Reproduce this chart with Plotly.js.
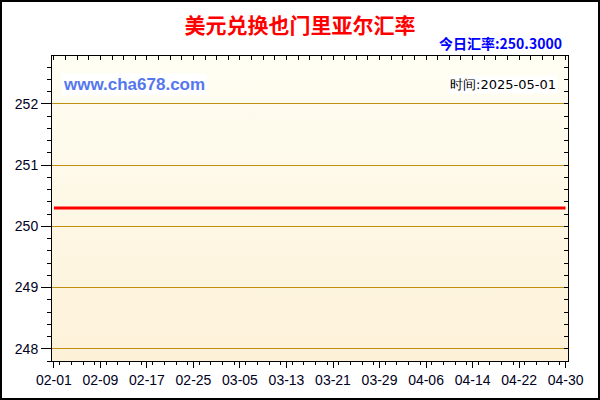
<!DOCTYPE html>
<html>
<head>
<meta charset="utf-8">
<script src="https://cdn.plot.ly/plotly-3.0.1.min.js"></script>
<style>
  body { margin: 0; }
  #wrap { position: relative; width: 600px; height: 400px; }
  #frame { position: absolute; left: 0; top: 0; width: 600px; height: 400px;
           box-sizing: border-box; border: 2px solid #000; pointer-events: none; }
</style>
</head>
<body>
<div id="wrap">
  <div id="chart" style="width:600px;height:400px;"></div>
  <div id="frame"></div>
</div>
<script>
// flat rate over the period
var dates = ['2025-02-01', '2025-02-09', '2025-02-17', '2025-02-25', '2025-03-05',
             '2025-03-13', '2025-03-21', '2025-03-29', '2025-04-06', '2025-04-14',
             '2025-04-22', '2025-04-30'];
var rates = [250.3, 250.3, 250.3, 250.3, 250.3, 250.3, 250.3, 250.3, 250.3, 250.3,
             250.3, 250.3];

var chartTitle = '美元兑换也门里亚尔汇率';
var todayLabel = '今日汇率:250.3000';
var siteLabel = 'www.cha678.com';
var timeLabel = '时间:2025-05-01';

var DAY = 86400000;
var xRange = ['2025-01-31 16:00', '2025-04-30 10:00'];
var yRange = [247.8, 252.78];

var tickFont = { family: 'Liberation Sans, Arial, sans-serif', size: 14, color: '#000022' };

var gradient = 'data:image/svg+xml;utf8,' + encodeURIComponent(
  '<svg xmlns="http://www.w3.org/2000/svg" width="10" height="100" preserveAspectRatio="none">' +
  '<defs><linearGradient id="g" x1="0" y1="0" x2="0" y2="1">' +
  '<stop offset="0" stop-color="#fffef3"/><stop offset="1" stop-color="#fdf1d8"/>' +
  '</linearGradient></defs><rect width="10" height="100" fill="url(#g)"/></svg>');

var trace1 = {
  x: dates,
  y: rates,
  type: 'scatter',
  mode: 'lines',
  line: { color: '#ff0000', width: 3 },
  hoverinfo: 'skip'
};

// invisible copy so the top/right axes get drawn
var trace2 = {
  x: dates,
  y: rates,
  xaxis: 'x2',
  yaxis: 'y2',
  type: 'scatter',
  mode: 'lines',
  line: { width: 0 },
  opacity: 0,
  hoverinfo: 'skip'
};

var layout = {
  width: 600,
  height: 400,
  showlegend: false,
  paper_bgcolor: '#ffffff',
  plot_bgcolor: 'rgba(0,0,0,0)',
  margin: { l: 52, r: 32, t: 56, b: 39 },
  title: {
    text: chartTitle,
    font: { family: 'Noto Sans CJK SC, sans-serif', size: 21, color: '#ff0000', weight: 'bold' },
    x: 0.5, xref: 'container', xanchor: 'center',
    y: 0.935, yref: 'container', yanchor: 'middle'
  },
  xaxis: {
    type: 'date',
    range: xRange,
    tick0: '2025-02-01',
    dtick: 8 * DAY,
    tickformat: '%m-%d',
    ticks: 'outside',
    ticklen: 6,
    tickcolor: '#000',
    showgrid: false,
    zeroline: false,
    showline: true,
    linecolor: '#000',
    linewidth: 1,
    tickfont: tickFont,
    minor: { dtick: 2 * DAY, ticks: 'outside', ticklen: 3, tickcolor: '#000', showgrid: false }
  },
  yaxis: {
    range: yRange,
    tick0: 248,
    dtick: 1,
    ticks: 'outside',
    ticklen: 10,
    tickcolor: '#000',
    showgrid: true,
    gridcolor: '#bf8f10',
    gridwidth: 1,
    zeroline: false,
    showline: true,
    linecolor: '#000',
    linewidth: 1,
    tickfont: tickFont,
    minor: { dtick: 0.2, ticks: 'outside', ticklen: 4, tickcolor: '#000', showgrid: false }
  },
  xaxis2: {
    type: 'date',
    overlaying: 'x',
    side: 'top',
    range: xRange,
    tick0: '2025-02-01',
    dtick: 2 * DAY,
    ticks: 'inside',
    ticklen: 4,
    tickcolor: '#000',
    showticklabels: false,
    showgrid: false,
    zeroline: false,
    showline: true,
    linecolor: '#000',
    linewidth: 1
  },
  yaxis2: {
    overlaying: 'y',
    side: 'right',
    range: yRange,
    tick0: 248,
    dtick: 0.2,
    ticks: 'inside',
    ticklen: 4,
    tickcolor: '#000',
    showticklabels: false,
    showgrid: false,
    zeroline: false,
    showline: true,
    linecolor: '#000',
    linewidth: 1
  },
  images: [{
    source: gradient,
    xref: 'paper', yref: 'paper',
    x: 0, y: 1, sizex: 1, sizey: 1,
    xanchor: 'left', yanchor: 'top',
    sizing: 'stretch',
    layer: 'below'
  }],
  annotations: [
    {
      text: todayLabel,
      xref: 'paper', yref: 'paper',
      x: 0.992, y: 1.043, xanchor: 'right', yanchor: 'middle',
      showarrow: false,
      font: { family: 'Noto Sans CJK SC, sans-serif', size: 14, color: '#0000ff', weight: 'bold' }
    },
    {
      text: siteLabel,
      xref: 'paper', yref: 'paper',
      x: 0.018, y: 0.905, xanchor: 'left', yanchor: 'middle',
      showarrow: false,
      bgcolor: '#ffffff',
      font: { family: 'Liberation Sans, Arial, sans-serif', size: 17, color: '#5577ee', weight: 'bold' }
    },
    {
      text: timeLabel,
      xref: 'paper', yref: 'paper',
      x: 0.98, y: 0.905, xanchor: 'right', yanchor: 'middle',
      showarrow: false,
      bgcolor: '#ffffff',
      font: { family: 'DejaVu Sans, sans-serif', size: 13, color: '#000000' }
    }
  ]
};

var config = { displayModeBar: false, staticPlot: true };

Plotly.newPlot('chart', [trace1, trace2], layout, config);
</script>
</body>
</html>
